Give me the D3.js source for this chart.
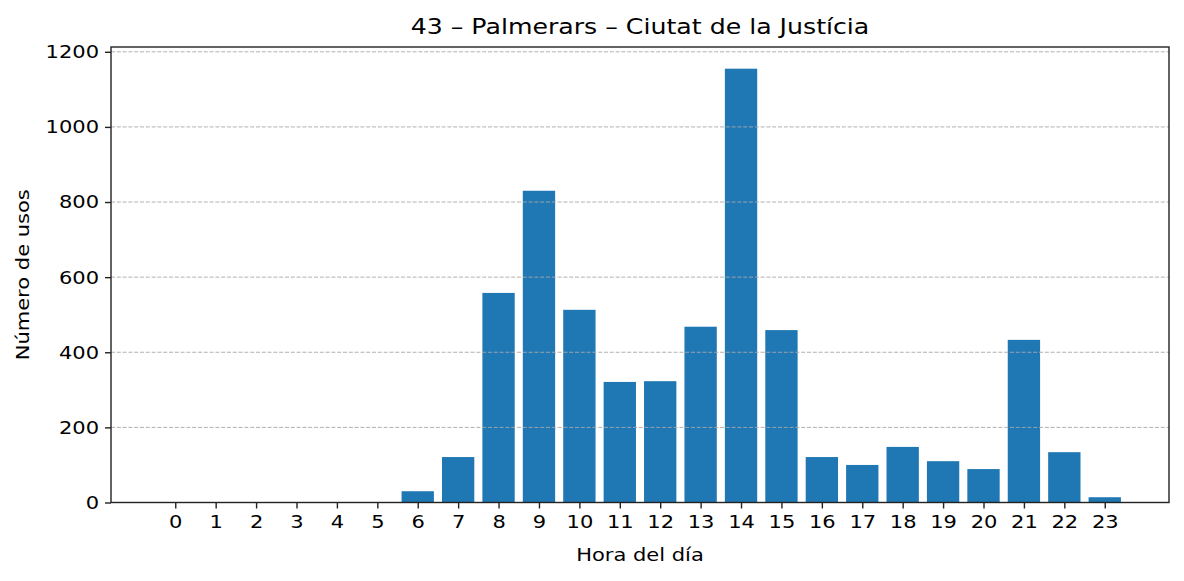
<!DOCTYPE html>
<html>
<head>
<meta charset="utf-8">
<script src="https://cdn.jsdelivr.net/npm/d3@7"></script>
<style>
  body { margin: 0; background: #fff; }
  text { font-family: "DejaVu Sans", sans-serif; fill: #000; }
</style>
</head>
<body>
<div id="chart"></div>
<script>
// Data
const hours = d3.range(0, 24);
const uses = [0, 0, 0, 0, 0, 0, 30, 121, 558, 830, 513, 321, 323, 468, 1155, 459, 121, 100, 148, 110, 89, 433, 134, 14];
const yTicks = [0, 200, 400, 600, 800, 1000, 1200];

const titleText = "43 \u2013 Palmerars \u2013 Ciutat de la Just\u00edcia";
const xLabel = "Hora del d\u00eda";
const yLabel = "N\u00famero de usos";

const width = 1184, height = 581;
const margin = { top: 47, right: 15, bottom: 78.5, left: 111 };

const svg = d3.select("#chart").append("svg")
    .attr("width", width)
    .attr("height", height);

const plotW = width - margin.left - margin.right;
const plotH = height - margin.top - margin.bottom;

// matplotlib-like x range: bars of width 0.8 with 5% margins
const barW = 0.8;
const lo = -barW / 2, hi = 23 + barW / 2;
const pad = (hi - lo) * 0.05;
const x = d3.scaleLinear().domain([lo - pad, hi + pad]).range([0, plotW]);
const y = d3.scaleLinear().domain([0, d3.max(uses) * 1.05]).range([plotH, 0]);

const g = svg.append("g").attr("transform", `translate(${margin.left},${margin.top})`);

// bars
g.selectAll("rect.bar")
    .data(hours)
    .join("rect")
    .attr("class", "bar")
    .attr("x", d => x(d - barW / 2))
    .attr("width", d => x(d + barW / 2) - x(d - barW / 2))
    .attr("y", d => y(uses[d]))
    .attr("height", d => y(0) - y(uses[d]))
    .attr("fill", "#1f77b4");

// grid drawn over bars, like in the reference
g.selectAll("line.grid")
    .data(yTicks)
    .join("line")
    .attr("class", "grid")
    .attr("x1", 0).attr("x2", plotW)
    .attr("y1", d => y(d)).attr("y2", d => y(d))
    .attr("stroke", "#a8a8a8")
    .attr("stroke-width", 0.9)
    .attr("stroke-dasharray", "4,1.8");

// axes
const yAxis = d3.axisLeft(y).tickValues(yTicks).tickSize(6).tickPadding(6).tickFormat(d3.format("d"));
const xAxis = d3.axisBottom(x).tickValues(hours).tickSize(6).tickPadding(6).tickFormat(d => d);

const yg = g.append("g").call(yAxis);
const xg = g.append("g").attr("transform", `translate(0,${plotH})`).call(xAxis);

[yg, xg].forEach(a => {
    a.select(".domain").remove();
    a.selectAll(".tick line").attr("stroke", "#222").attr("stroke-width", 1.4);
    a.selectAll(".tick text")
        .attr("font-size", "18.5px")
        .attr("font-family", "DejaVu Sans")
        .attr("fill", "#000")
        .attr("data-stretch", 1.135);
});

// frame
g.append("rect")
    .attr("width", plotW).attr("height", plotH)
    .attr("fill", "none")
    .attr("stroke", "#222")
    .attr("stroke-width", 1.4);

// title and axis labels
svg.append("text")
    .attr("x", margin.left + plotW / 2)
    .attr("y", 34)
    .attr("text-anchor", "middle")
    .attr("font-size", "21px")
    .attr("data-stretch", 1.2)
    .text(titleText);

svg.append("text")
    .attr("x", margin.left + plotW / 2)
    .attr("y", 561)
    .attr("text-anchor", "middle")
    .attr("font-size", "18.5px")
    .attr("data-stretch", 1.135)
    .text(xLabel);

svg.append("text")
    .attr("transform", `translate(29,${margin.top + plotH / 2}) rotate(-90)`)
    .attr("text-anchor", "middle")
    .attr("font-size", "18.5px")
    .attr("data-stretch", 1.135)
    .text(yLabel);

// widen labels to the reference's proportions (its glyphs run wider)
svg.selectAll("text").each(function () {
    const k = +this.getAttribute("data-stretch") || 1;
    const len = this.getComputedTextLength();
    d3.select(this)
        .attr("textLength", len * k)
        .attr("lengthAdjust", "spacingAndGlyphs");
});
</script>
</body>
</html>
